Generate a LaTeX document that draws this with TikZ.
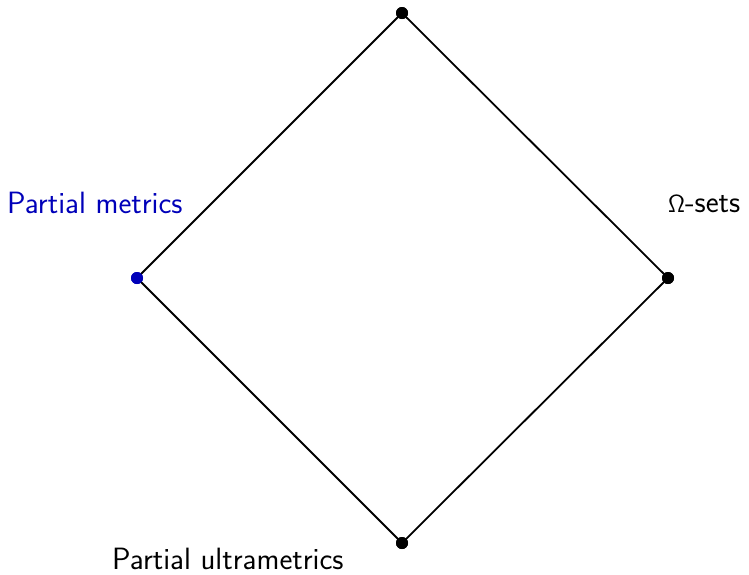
\documentclass[tikz,border=0pt]{standalone}
\definecolor{dblue}{RGB}{0,0,185}
\begin{document}
\begin{tikzpicture}[x=1pt,y=-1pt,
  edge/.style={line width=1.8pt},
  dot/.style={circle,fill=black,inner sep=0pt,minimum size=12pt},
  lbl/.style={inner sep=0pt,anchor=base west,font=\fontsize{30.8}{36}\selectfont\sffamily}]
\useasboundingbox (0,0) rectangle (749,574);
\node[dot] (t) at (402,13) {};
\node[dot,fill=dblue] (l) at (137,278) {};
\node[dot] (r) at (668,278) {};
\node[dot] (b) at (402,543) {};
\draw[edge] (t.center) -- (l.center) -- (b.center) -- (r.center) -- (t.center);
\node[dot,fill=dblue] at (l) {};
\node[dot] at (t) {};
\node[dot] at (r) {};
\node[dot] at (b) {};
\node[lbl,text=dblue] (lt) at (7,213) {Partial metrics};
\node[lbl] (rt) at (668,212) {$\mathsf{\Omega}$-sets};
\node[lbl] (bt) at (112,569) {Partial ultrametrics};
\end{tikzpicture}
\end{document}
